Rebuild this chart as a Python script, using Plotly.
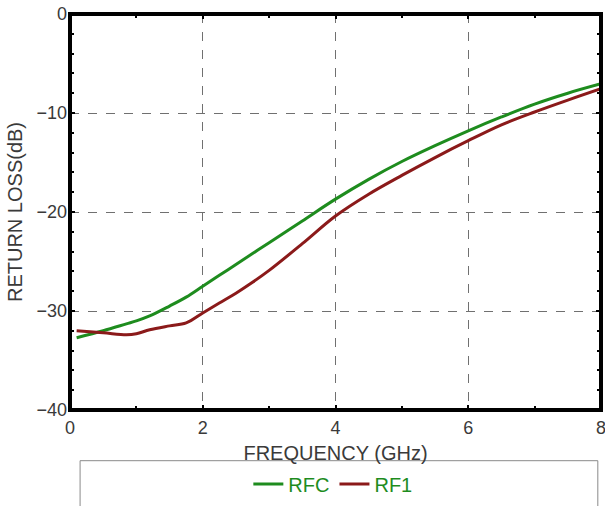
import plotly.graph_objects as go

freq = [0.1, 0.5, 0.85, 1.0, 1.2, 1.5, 1.75, 2.0, 2.25, 2.5, 2.75, 3.0, 3.5, 4.0,
        4.5, 5.0, 5.5, 6.0, 6.5, 7.0, 7.5, 8.0]
rfc = [-32.7, -32.0, -31.3, -31.0, -30.5, -29.5, -28.6, -27.5, -26.4, -25.3, -24.2, -23.1,
       -20.9, -18.7, -16.7, -14.9, -13.3, -11.8, -10.4, -9.1, -8.0, -7.05]
rf1 = [-32.0, -32.2, -32.4, -32.3, -31.9, -31.5, -31.2, -30.2, -29.2, -28.2, -27.1, -25.9,
       -23.2, -20.4, -18.2, -16.3, -14.5, -12.8, -11.2, -9.9, -8.7, -7.55]

GREEN = "#1e8c1e"
RED = "#8b1a1a"
INK = "#3a3a3a"

fig = go.Figure()
fig.add_trace(go.Scatter(x=freq, y=rfc, name="RFC", mode="lines",
                         line=dict(color=GREEN, width=3, shape="spline")))
fig.add_trace(go.Scatter(x=freq, y=rf1, name="RF1", mode="lines",
                         line=dict(color=RED, width=3, shape="spline")))

# plot frame
fig.add_shape(type="rect", xref="paper", yref="paper", x0=0, x1=1, y0=0, y1=1,
              line=dict(color="#000000", width=4), layer="above")
# legend frame below the plot
fig.add_shape(type="rect", xref="paper", yref="paper",
              x0=0.019, x1=0.994, y0=-0.128, y1=-0.3,
              line=dict(color="#8a8a8a", width=1))

fig.update_xaxes(
    range=[0, 8], dtick=2, tick0=0, automargin=False, ticklabeloverflow="allow",
    showline=False, mirror="ticks", ticklabelstandoff=5,
    ticks="inside", ticklen=5, tickwidth=2, tickcolor="#000000",
    minor=dict(dtick=1, ticks="inside", ticklen=4, tickwidth=2, tickcolor="#000000", showgrid=False),
    showgrid=True, gridcolor="#707070", griddash="dash", gridwidth=1, zeroline=False,
    tickfont=dict(size=18, color=INK),
    title=dict(text="FREQUENCY (GHz)", font=dict(size=20, color=INK), standoff=8),
)
fig.update_yaxes(
    range=[-40, 0], dtick=10, tick0=0, automargin=False, ticklabeloverflow="allow",
    showline=False, mirror="ticks", ticklabelstandoff=2,
    ticks="inside", ticklen=5, tickwidth=2, tickcolor="#000000",
    minor=dict(dtick=2, ticks="inside", ticklen=4, tickwidth=2, tickcolor="#000000", showgrid=False),
    showgrid=True, gridcolor="#707070", griddash="dash", gridwidth=1, zeroline=False,
    tickfont=dict(size=18, color=INK),
    title=dict(text="RETURN LOSS(dB)", font=dict(size=20, color=INK), standoff=8),
)

fig.update_layout(
    width=605, height=506,
    margin=dict(l=70, r=4, t=14, b=95),
    paper_bgcolor="white", plot_bgcolor="white",
    font=dict(family="Liberation Sans, Arial, sans-serif", color=INK),
    showlegend=True,
    legend=dict(orientation="h", x=0.495, xanchor="center", y=-0.184, yanchor="middle",
                font=dict(size=20, color=GREEN), bgcolor="rgba(0,0,0,0)"),
)

fig.write_html("out.html", config={"displayModeBar": False},
               post_script="document.body.style.margin='0';")
